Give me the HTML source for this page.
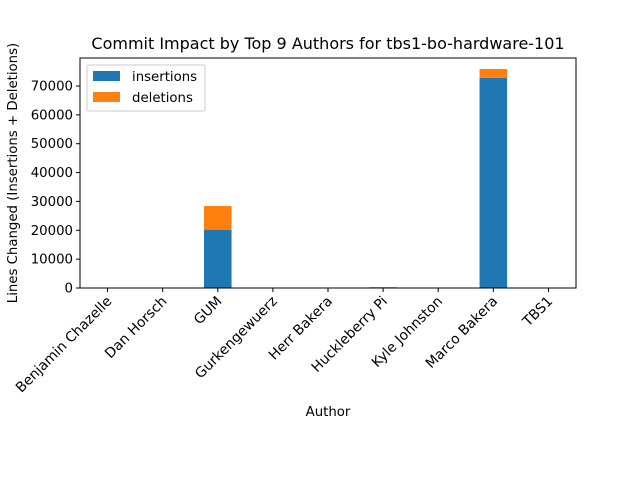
<!DOCTYPE html>
<html><head><meta charset="utf-8"><style>
body{margin:0;background:#fff;}
svg text{font-family:"DejaVu Sans","Liberation Sans",sans-serif;fill:#000;}
</style></head><body>
<svg id="chart" width="640" height="480" xmlns="http://www.w3.org/2000/svg">
<rect width="640" height="480" fill="#fff"/>
<text x="328" y="49" font-size="16" text-anchor="middle">Commit Impact by Top 9 Authors for tbs1-bo-hardware-101</text>
<g id="bars"></g>
<rect x="80" y="58" width="496" height="230" fill="none" stroke="#000" stroke-width="1"/>
<g id="yticks"></g>
<g id="xticks"></g>
<text transform="translate(17,173) rotate(-90)" font-size="13.3" text-anchor="middle">Lines Changed (Insertions + Deletions)</text>
<text x="328" y="416" font-size="13.3" text-anchor="middle">Author</text>
<g>
<rect x="87" y="65" width="118" height="46" rx="2" fill="#fff" stroke="#ccc" fill-opacity="0.8"/>
<rect x="93" y="71" width="27" height="10" fill="#1f77b4"/>
<text x="132" y="81" font-size="13.3">insertions</text>
<rect x="93" y="92" width="27" height="10" fill="#ff7f0e"/>
<text x="132" y="102" font-size="13.3">deletions</text>
</g>
</svg>
<script>
const authors=["Benjamin Chazelle","Dan Horsch","GUM","Gurkengewuerz","Herr Bakera","Huckleberry Pi","Kyle Johnston","Marco Bakera","TBS1"];
const insertions=[20,10,20100,10,10,150,10,72800,10];
const deletions=[5,5,8300,5,5,150,5,3100,5];
const yTicks=[0,10000,20000,30000,40000,50000,60000,70000];
const NS="http://www.w3.org/2000/svg";
const X0=80,X1=576,Y0=288,Y1=58,YMAX=79700;
function xs(i){return X0+(i+0.5)*(X1-X0)/authors.length;}
function ys(v){return Y0-v/YMAX*(Y0-Y1);}
function mk(t,a,p){const e=document.createElementNS(NS,t);for(const k in a)e.setAttribute(k,a[k]);p.appendChild(e);return e;}
const bars=document.getElementById('bars'),yt=document.getElementById('yticks'),xt=document.getElementById('xticks');
const bw=0.5*(X1-X0)/authors.length;
authors.forEach((a,i)=>{
  const b1=mk('rect',{x:xs(i)-bw/2,y:ys(insertions[i]),width:bw,height:Y0-ys(insertions[i]),fill:'#1f77b4'},bars);
  
  
  const top=insertions[i]+deletions[i];
  const b2=mk('rect',{x:xs(i)-bw/2,y:ys(top),width:bw,height:ys(insertions[i])-ys(top),fill:'#ff7f0e'},bars);
  
  
  const tk=mk('line',{x1:xs(i),x2:xs(i),y1:Y0,y2:Y0+4,stroke:'#000'},xt);
  
  
  const tl=mk('text',{transform:`translate(${xs(i)+5},${Y0+14}) rotate(-45)`,'font-size':'13.9','text-anchor':'end'},xt);
  tl.textContent=a;
  
  
});
yTicks.forEach(v=>{
  const tk=mk('line',{x1:X0-4,x2:X0,y1:ys(v),y2:ys(v),stroke:'#000'},yt);
  
  
  const tl=mk('text',{x:X0-7,y:ys(v)+4.5,'font-size':'13.3','text-anchor':'end'},yt);
  tl.textContent=v;
  
  
});
</script>
</body></html>
